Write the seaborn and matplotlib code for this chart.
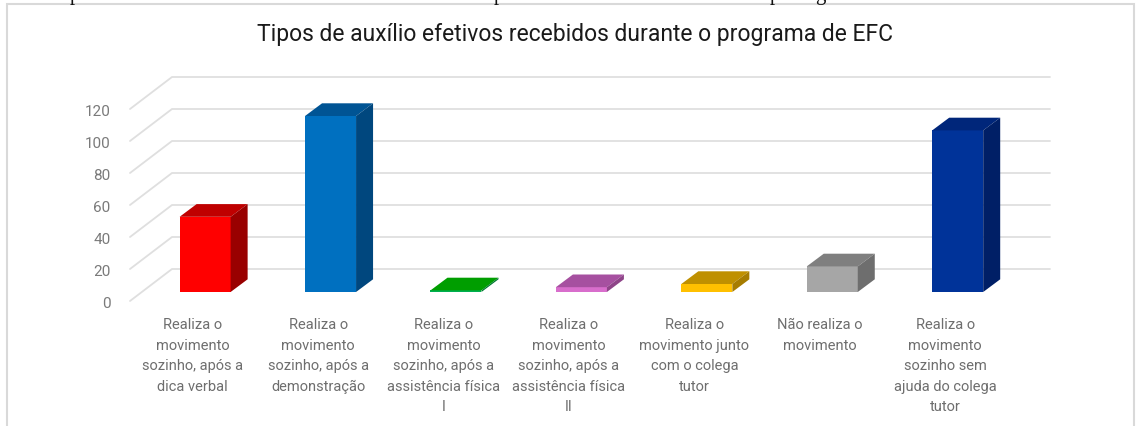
import numpy as np
import pandas as pd
import matplotlib
matplotlib.use("Agg")
import matplotlib.pyplot as plt
from matplotlib.patches import Polygon, Rectangle
from matplotlib.transforms import Affine2D
import seaborn as sns

#values
categories = [
    "Realiza o\nmovimento\nsozinho, após a\ndica verbal",
    "Realiza o\nmovimento\nsozinho, após a\ndemonstração",
    "Realiza o\nmovimento\nsozinho, após a\nassistência física\nI",
    "Realiza o\nmovimento\nsozinho, após a\nassistência física\nII",
    "Realiza o\nmovimento junto\ncom o colega\ntutor",
    "Não realiza o\nmovimento",
    "Realiza o\nmovimento\nsozinho sem\najuda do colega\ntutor",
]
values = [47, 110, 1, 3, 5, 16, 101]
front_colors = ["#FF0000", "#0070C0", "#00B050", "#D86ECC", "#FFC000", "#A6A6A6", "#003399"]
top_colors = ["#BF0000", "#005494", "#009E00", "#A650A0", "#BF9000", "#7F7F7F", "#00267A"]
side_colors = ["#990000", "#00477E", "#007A30", "#8E4488", "#A67C00", "#6E6E6E", "#001F66"]
y_ticks = [0, 20, 40, 60, 80, 100, 120]
title = "Tipos de auxílio efetivos recebidos durante o programa de EFC"

#bits of the line above the chart that got cut off, only descenders show
cut_letters = ["p", "p", "p", "g"]
cut_letters_x = [75, 499, 775, 820]

sns.set_theme(style="white")
plt.rcParams["font.family"] = ["Roboto", "DejaVu Sans"]

W, H = 1144, 426
fig = plt.figure(figsize=(W / 100, H / 100), dpi=100)

#front plane of the fake 3d box, in pixels
left, right, top, bottom = 130, 1008, 109, 301
ax = fig.add_axes([left / W, 1 - bottom / H, (right - left) / W, (bottom - top) / H])

df = pd.DataFrame({"categoria": categories, "valor": values})
sns.barplot(data=df, x="categoria", y="valor", hue="categoria", palette=front_colors,
            legend=False, width=51 / 125.4, saturation=1, linewidth=0, ax=ax, zorder=3)
ax.set_xlim(-0.5, 6.5)
ax.set_ylim(0, 120)

px_x = 1 / 125.4
px_y = 120 / 192

#bars stand part way into the floor
shift_x, shift_y = 12.4 * px_x, 9 * px_y
depth_x, depth_y = 17 * px_x, 12.7 * px_y
for bar, c_top, c_side in zip(ax.patches, top_colors, side_colors):
    x0 = bar.get_x() + shift_x
    x1 = x0 + bar.get_width()
    y0 = shift_y
    y1 = y0 + bar.get_height()
    bar.set_x(x0)
    bar.set_y(y0)
    bar.set_clip_on(False)
    bar.set_edgecolor("none")
    ax.add_patch(Polygon([(x0, y1), (x1, y1), (x1 + depth_x, y1 + depth_y), (x0 + depth_x, y1 + depth_y)],
                         closed=True, facecolor=c_top, edgecolor="none", clip_on=False, zorder=3))
    ax.add_patch(Polygon([(x1, y0), (x1 + depth_x, y0 + depth_y), (x1 + depth_x, y1 + depth_y), (x1, y1)],
                         closed=True, facecolor=c_side, edgecolor="none", clip_on=False, zorder=3))

#gridlines on the back wall and their diagonals on the side wall
back_x, back_y = 42 * px_x, 32 * px_y
for v in y_ticks:
    ax.plot([-0.5, -0.5 + back_x, 6.5 + back_x], [v, v + back_y, v + back_y],
            color="#DFDFDF", lw=1.3, clip_on=False, zorder=1)

sns.despine(ax=ax, left=True, bottom=True)
ax.set_xlabel("")
ax.set_ylabel("")
ax.set_yticks(y_ticks)
ax.tick_params(axis="y", length=0, pad=14, labelsize=11, labelcolor="#7A7A7A")
ax.tick_params(axis="x", length=0, pad=12.5, labelsize=10.5, labelcolor="#6E6E6E")
for lab in ax.get_xticklabels():
    lab.set_linespacing(1.58)
    lab.set_verticalalignment("top")
for lab in ax.get_yticklabels():
    lab.set_transform(lab.get_transform() + Affine2D().translate(0, -2))
ax.patch.set_alpha(0)

fig.text(575 / W, 1 - 35 / H, title, ha="center", va="center", fontsize=16.5, color="#1A1A1A")

for letter, lx in zip(cut_letters, cut_letters_x):
    fig.text(lx / W, 1.0, letter, ha="center", va="baseline", fontsize=15, color="#111111",
             family="Liberation Serif")

#outer chart frame
fig.add_artist(Rectangle((7 / W, -0.1), (1134 - 7) / W, 0.1 + 1 - 4 / H, transform=fig.transFigure,
                         fill=False, edgecolor="#D9D9D9", lw=1.5))

fig.savefig("out.png", dpi=100)
